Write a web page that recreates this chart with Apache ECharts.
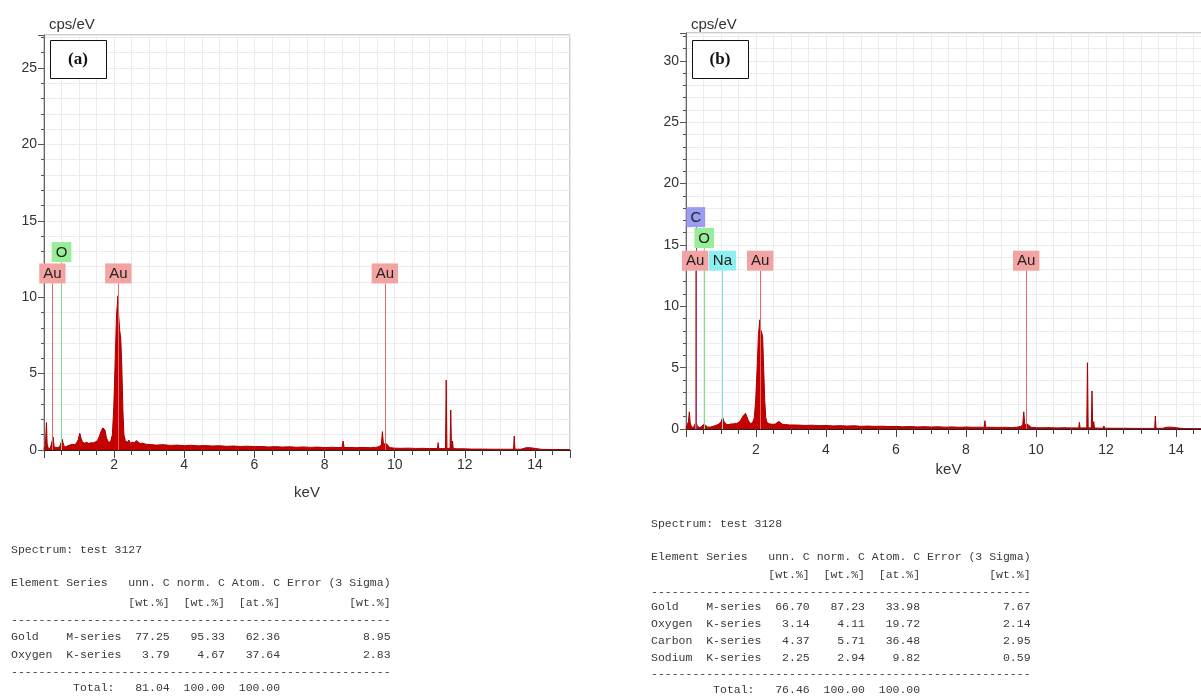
<!DOCTYPE html>
<html>
<head>
<meta charset="utf-8">
<title>EDX spectra test 3127 / 3128</title>
<script src="https://cdn.jsdelivr.net/npm/echarts@6/dist/echarts.min.js"></script>
<style>
  html, body { margin: 0; padding: 0; background: #fff; }
  #chart { width: 1201px; height: 698px; }
</style>
</head>
<body>
<div id="chart"></div>
<script>
// spectrum (a), test 3127 : [keV, cps/eV]
const spectrumA = [
  [0.00, 0.05], [0.04, 0.3], [0.07, 1.8], [0.09, 0.4], [0.12, 0.12], [0.18, 0.1], [0.22, 0.2],
  [0.26, 0.85], [0.29, 0.2], [0.34, 0.12], [0.40, 0.15], [0.46, 0.3], [0.52, 0.7], [0.56, 0.3],
  [0.62, 0.2], [0.68, 0.28], [0.74, 0.32], [0.80, 0.38], [0.86, 0.35], [0.92, 0.42], [0.98, 0.7],
  [1.02, 1.1], [1.06, 0.75], [1.10, 0.5], [1.16, 0.45], [1.22, 0.5], [1.28, 0.42], [1.34, 0.48],
  [1.40, 0.46], [1.46, 0.52], [1.52, 0.6], [1.58, 0.9], [1.64, 1.3], [1.68, 1.45], [1.71, 1.55],
  [1.74, 1.3], [1.78, 0.8], [1.84, 0.5], [1.90, 0.55], [1.95, 1.0], [1.99, 2.8], [2.03, 5.8],
  [2.07, 8.9], [2.11, 10.1], [2.13, 8.8], [2.16, 7.8], [2.19, 7.3], [2.22, 5.4], [2.25, 2.6],
  [2.28, 1.0], [2.32, 0.6], [2.38, 0.5], [2.42, 0.65], [2.46, 0.45], [2.52, 0.5], [2.58, 0.48],
  [2.63, 0.62], [2.68, 0.5], [2.74, 0.42], [2.80, 0.45], [2.90, 0.38], [3.00, 0.36],
  [3.2, 0.32], [3.4, 0.35], [3.6, 0.30], [3.8, 0.32], [4.0, 0.28], [4.2, 0.31], [4.4, 0.27],
  [4.6, 0.29], [4.8, 0.26], [5.0, 0.28], [5.2, 0.24], [5.4, 0.26], [5.6, 0.23], [5.8, 0.25],
  [6.0, 0.22], [6.2, 0.23], [6.4, 0.20], [6.6, 0.22], [6.8, 0.19], [7.0, 0.21], [7.2, 0.18],
  [7.4, 0.20], [7.6, 0.17], [7.8, 0.19], [8.0, 0.16], [8.2, 0.18], [8.4, 0.16], [8.50, 0.17],
  [8.53, 0.59], [8.56, 0.16], [8.7, 0.17], [8.9, 0.15], [9.1, 0.17], [9.3, 0.15], [9.45, 0.17],
  [9.55, 0.22], [9.62, 0.32], [9.65, 1.2], [9.68, 0.38], [9.72, 0.45], [9.76, 0.42], [9.8, 0.3],
  [9.86, 0.16], [10.0, 0.12], [10.2, 0.11], [10.4, 0.12], [10.6, 0.1], [10.8, 0.11], [11.0, 0.09],
  [11.22, 0.1], [11.24, 0.48], [11.26, 0.09], [11.45, 0.09], [11.47, 4.58], [11.49, 0.1],
  [11.58, 0.11], [11.60, 2.62], [11.62, 0.11], [11.65, 0.59], [11.67, 0.09], [11.8, 0.08],
  [11.92, 0.08], [11.94, 0.2], [11.96, 0.07], [12.2, 0.06], [12.5, 0.06], [12.8, 0.05],
  [13.1, 0.05], [13.39, 0.05], [13.41, 0.92], [13.43, 0.05], [13.6, 0.05], [13.75, 0.15],
  [13.8, 0.05], [13.86, 0.15], [13.9, 0.04], [14.2, 0.04], [14.6, 0.03], [15.0, 0.03]
]

// spectrum (b), test 3128 : [keV, cps/eV]
const spectrumB = [
  [0.00, 0.05], [0.03, 0.3], [0.07, 0.6], [0.095, 1.4], [0.12, 0.5], [0.16, 0.15], [0.22, 0.15],
  [0.26, 0.3], [0.29, 0.62], [0.32, 0.25], [0.38, 0.12], [0.44, 0.18], [0.49, 0.35], [0.52, 0.5],
  [0.56, 0.3], [0.62, 0.15], [0.70, 0.16], [0.78, 0.22], [0.86, 0.3], [0.94, 0.4], [1.00, 0.6],
  [1.05, 0.92], [1.09, 0.6], [1.14, 0.4], [1.20, 0.35], [1.28, 0.4], [1.36, 0.42], [1.44, 0.45],
  [1.52, 0.55], [1.58, 0.8], [1.64, 1.1], [1.70, 1.28], [1.74, 1.15], [1.78, 0.7], [1.84, 0.45],
  [1.90, 0.5], [1.95, 0.9], [1.99, 2.3], [2.03, 4.8], [2.07, 7.7], [2.11, 8.9], [2.13, 8.1],
  [2.16, 7.9], [2.19, 7.5], [2.22, 4.9], [2.25, 2.3], [2.28, 0.9], [2.32, 0.5], [2.38, 0.42],
  [2.43, 0.5], [2.48, 0.38], [2.55, 0.4], [2.60, 0.5], [2.65, 0.62], [2.70, 0.5], [2.76, 0.38],
  [2.85, 0.36], [2.95, 0.33], [3.0, 0.32], [3.2, 0.32], [3.4, 0.29], [3.6, 0.31], [3.8, 0.27],
  [4.0, 0.29], [4.2, 0.25], [4.4, 0.27], [4.6, 0.24], [4.8, 0.26], [5.0, 0.22], [5.2, 0.24],
  [5.4, 0.21], [5.6, 0.23], [5.8, 0.2], [6.0, 0.21], [6.2, 0.18], [6.4, 0.2], [6.6, 0.17],
  [6.8, 0.19], [7.0, 0.16], [7.2, 0.18], [7.4, 0.15], [7.6, 0.17], [7.8, 0.14], [8.0, 0.16],
  [8.2, 0.14], [8.4, 0.15], [8.52, 0.14], [8.54, 0.68], [8.56, 0.14], [8.7, 0.14], [8.9, 0.13],
  [9.1, 0.14], [9.3, 0.12], [9.45, 0.14], [9.55, 0.2], [9.62, 0.3], [9.65, 1.4], [9.68, 0.34],
  [9.72, 0.4], [9.76, 0.38], [9.8, 0.27], [9.86, 0.14], [10.0, 0.1], [10.2, 0.1], [10.4, 0.11],
  [10.6, 0.09], [10.8, 0.1], [11.0, 0.09], [11.22, 0.09], [11.24, 0.55], [11.26, 0.09],
  [11.45, 0.09], [11.47, 5.4], [11.49, 0.09], [11.58, 0.1], [11.60, 3.1], [11.62, 0.1],
  [11.65, 0.6], [11.67, 0.08], [11.8, 0.07], [11.92, 0.07], [11.94, 0.25], [11.96, 0.07],
  [12.2, 0.06], [12.5, 0.06], [12.8, 0.05], [13.1, 0.05], [13.39, 0.05], [13.41, 1.06],
  [13.43, 0.05], [13.6, 0.05], [13.75, 0.15], [13.8, 0.05], [13.86, 0.15], [13.9, 0.04],
  [14.2, 0.04], [14.6, 0.03], [15.0, 0.03]
]

// element marker lines: name, energy (keV), height of the label (cps/eV)
const markerElementsA = ['O', 'Au', 'Au', 'Au']
const markerKeVA = [0.5, 0.24, 2.12, 9.72]
const markerTopA = [12.3, 10.9, 10.9, 10.9]

const markerElementsB = ['Na', 'O', 'Au', 'C', 'Au', 'Au']
const markerKeVB = [1.04, 0.52, 0.26, 0.28, 2.12, 9.72]
const markerTopB = [12.9, 14.75, 12.9, 16.45, 12.9, 12.9]

// quantification tables
const elementsA = ['Gold', 'Oxygen']
const linesA = ['M-series', 'K-series']
const unnA = ['77.25', '3.79']
const normA = ['95.33', '4.67']
const atomA = ['62.36', '37.64']
const errorA = ['8.95', '2.83']
const totalA = ['81.04', '100.00', '100.00']

const elementsB = ['Gold', 'Oxygen', 'Carbon', 'Sodium']
const linesB = ['M-series', 'K-series', 'K-series', 'K-series']
const unnB = ['66.70', '3.14', '4.37', '2.25']
const normB = ['87.23', '4.11', '5.71', '2.94']
const atomB = ['33.98', '19.72', '36.48', '9.82']
const errorB = ['7.67', '2.14', '2.95', '0.59']
const totalB = ['76.46', '100.00', '100.00']

const lineColor = { Au: '#e06a6a', O: '#84de84', C: '#8a3a8a', Na: '#80dde6' }
const boxColor = { Au: '#f4a3a3', O: '#98ee98', C: '#9c9cf0', Na: '#8ef0f0' }

const sansFont = '"Liberation Sans", Arial, sans-serif'
const monoFont = '"Liberation Mono", monospace'

function markerData(names, kev, tops) {
  return names.map((el, i) => [
    {
      coord: [kev[i], 0],
      lineStyle: { color: lineColor[el] },
      label: { formatter: el, backgroundColor: boxColor[el] }
    },
    { coord: [kev[i], tops[i]] }
  ])
}

function tableLines(title, els, sers, unn, norm, atom, err, total) {
  const out = [title, '',
    'Element Series   unn. C norm. C Atom. C Error (3 Sigma)',
    ' '.repeat(17) + '[wt.%]  [wt.%]  [at.%]' + ' '.repeat(10) + '[wt.%]',
    '-'.repeat(55)]
  els.forEach((el, i) => {
    out.push(el.padEnd(8) + sers[i].padEnd(8) + unn[i].padStart(7) + norm[i].padStart(8) +
      atom[i].padStart(8) + err[i].padStart(16))
  })
  out.push('-'.repeat(55))
  out.push(' '.repeat(9) + 'Total:' + total[0].padStart(8) + total[1].padStart(8) + total[2].padStart(8))
  return out
}

function tableGraphics(lines, x, ys) {
  return lines.map((t, i) => ({
    type: 'text',
    x: x,
    y: ys[i],
    silent: true,
    style: {
      text: t, font: '11.5px ' + monoFont, fill: '#3a3a3a',
      textAlign: 'left', align: 'left', textVerticalAlign: 'middle', verticalAlign: 'middle'
    }
  }))
}

function panelAxes(gridIndex, ymax, labelMargin, nameGap, yNameGap) {
  const x = [
    {
      gridIndex, type: 'value', min: 0, max: 15, interval: 0.5, position: 'bottom',
      axisLine: { show: true, onZero: false, lineStyle: { color: '#222', width: 1.2 } },
      axisTick: { length: 5, lineStyle: { color: '#444' } },
      axisLabel: { show: false },
      splitLine: { show: true, lineStyle: { color: '#ececec' } }
    },
    {
      gridIndex, type: 'value', min: 0, max: 15, interval: 2, position: 'bottom',
      axisLine: { show: false, onZero: false },
      axisTick: { length: 8, lineStyle: { color: '#444' } },
      axisLabel: {
        margin: labelMargin, fontFamily: sansFont, fontSize: 14, color: '#333',
        formatter: v => (v > 0 && v % 2 === 0 ? String(v) : '')
      },
      splitLine: { show: false },
      name: 'keV', nameLocation: 'middle', nameGap: nameGap,
      nameTextStyle: { fontFamily: sansFont, fontSize: 15, color: '#333' }
    }
  ]
  const y = [
    {
      gridIndex, type: 'value', min: 0, max: ymax, interval: 1, position: 'left',
      axisLine: { show: true, onZero: false, lineStyle: { color: '#666' } },
      axisTick: { length: 3, lineStyle: { color: '#555' } },
      axisLabel: { show: false },
      splitLine: { show: true, lineStyle: { color: '#ececec' } }
    },
    {
      gridIndex, type: 'value', min: 0, max: ymax, interval: 5, position: 'left',
      axisLine: { show: false, onZero: false },
      axisTick: { length: 6, lineStyle: { color: '#555' } },
      axisLabel: {
        margin: 7, fontFamily: sansFont, fontSize: 14, color: '#333',
        formatter: v => (v % 5 === 0 ? String(v) : '')
      },
      splitLine: { show: false },
      name: 'cps/eV', nameLocation: 'end', nameGap: yNameGap,
      nameTextStyle: { fontFamily: sansFont, fontSize: 15, color: '#333', align: 'left', padding: [0, 0, 0, 5] }
    }
  ]
  return { x, y }
}

function spectrumSeries(axisIndex, data, markers) {
  return {
    type: 'line',
    xAxisIndex: axisIndex,
    yAxisIndex: axisIndex,
    data: data,
    showSymbol: false,
    symbol: 'none',
    silent: true,
    lineStyle: { color: '#a80000', width: 1 },
    areaStyle: { color: '#c40000', opacity: 1 },
    markLine: {
      silent: true,
      symbol: ['none', 'none'],
      animation: false,
      lineStyle: { type: 'solid', width: 1 },
      label: {
        show: true, position: 'end', distance: 0,
        fontFamily: sansFont, fontSize: 15, color: '#222', padding: [3, 4, 2, 4]
      },
      emphasis: { disabled: true },
      data: markers
    }
  }
}

const axesA = panelAxes(0, 27.16, 8, 35, 3)
const axesB = panelAxes(1, 32.27, 14, 27, 1)

const tableYA = [550, 566, 583, 603, 620, 637, 655, 672, 688]
const tableYB = [524, 540, 557, 575, 592, 607, 624, 641, 658, 674, 690]

const chart = echarts.init(document.getElementById('chart'))

const option = {
  backgroundColor: '#fff',
  animation: false,
  grid: [
    { left: 44, top: 35, width: 526, height: 415, outerBoundsMode: 'none', show: true, borderColor: '#999', borderWidth: 1, backgroundColor: '#fff' },
    { left: 686, top: 33, width: 525, height: 396, outerBoundsMode: 'none', show: true, borderColor: '#999', borderWidth: 1, backgroundColor: '#fff' }
  ],
  xAxis: [axesA.x[0], axesA.x[1], axesB.x[0], axesB.x[1]],
  yAxis: [axesA.y[0], axesA.y[1], axesB.y[0], axesB.y[1]],
  series: [
    spectrumSeries(0, spectrumA, markerData(markerElementsA, markerKeVA, markerTopA)),
    spectrumSeries(2, spectrumB, markerData(markerElementsB, markerKeVB, markerTopB))
  ],
  graphic: [
    { type: 'rect', z: 100, shape: { x: 50.5, y: 40.5, width: 56, height: 38 }, style: { fill: '#fff', stroke: '#111', lineWidth: 1 } },
    { type: 'text', z: 101, x: 78, y: 60, style: { text: '(a)', font: 'bold 17px "Liberation Serif", serif', fill: '#111', textAlign: 'center', align: 'center', textVerticalAlign: 'middle', verticalAlign: 'middle' } },
    { type: 'rect', z: 100, shape: { x: 692.5, y: 40.5, width: 56, height: 38 }, style: { fill: '#fff', stroke: '#111', lineWidth: 1 } },
    { type: 'text', z: 101, x: 720, y: 60, style: { text: '(b)', font: 'bold 17px "Liberation Serif", serif', fill: '#111', textAlign: 'center', align: 'center', textVerticalAlign: 'middle', verticalAlign: 'middle' } }
  ]
    .concat(tableGraphics(tableLines('Spectrum: test 3127', elementsA, linesA, unnA, normA, atomA, errorA, totalA), 11, tableYA))
    .concat(tableGraphics(tableLines('Spectrum: test 3128', elementsB, linesB, unnB, normB, atomB, errorB, totalB), 651, tableYB))
}

chart.setOption(option)
</script>
</body>
</html>
